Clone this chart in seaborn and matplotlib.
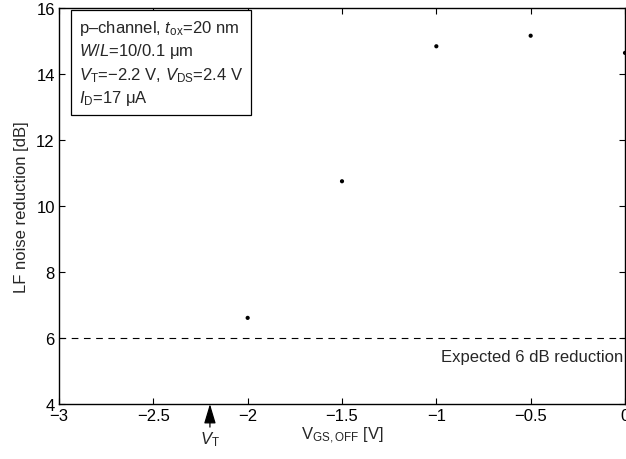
import matplotlib
matplotlib.use("Agg")
import matplotlib.pyplot as plt
import seaborn as sns
import pandas as pd

vgs_off = [-2.0, -1.5, -1.0, -0.5, 0.0]
noise_reduction = [6.61, 10.75, 14.84, 15.16, 14.64]
expected_db = 6
vt = -2.2
xticks = [-3, -2.5, -2, -1.5, -1, -0.5, 0]
yticks = [4, 6, 8, 10, 12, 14, 16]

sns.set_theme(style="ticks")
plt.rcParams['font.family'] = ['Liberation Sans', 'DejaVu Sans']
plt.rcParams['mathtext.fontset'] = 'custom'
plt.rcParams['mathtext.rm'] = 'Liberation Sans'
plt.rcParams['mathtext.it'] = 'Liberation Sans:italic'
plt.rcParams['axes.unicode_minus'] = True

FS = 12

df = pd.DataFrame({"x": vgs_off, "y": noise_reduction})

fig = plt.figure(figsize=(6.26, 4.6), dpi=100)
ax = fig.add_axes([59/626, 1 - 405/460, (625 - 59)/626, (405 - 9)/460])

sns.scatterplot(data=df, x="x", y="y", ax=ax, color="black", s=9, marker="o",
                edgecolor="none", legend=False, zorder=3)
ax.axhline(expected_db, color="black", lw=0.8, ls=(0, (6, 5)))

ax.set_xlim(-3, 0)
ax.set_ylim(4, 16)
ax.set_xticks(xticks)
ax.set_yticks(yticks)
ax.set_xticklabels([("\u2212" + f"{abs(v):g}") if v < 0 else f"{v:g}" for v in xticks])
ax.set_yticklabels([f"{v:g}" for v in yticks])
ax.tick_params(direction="in", top=True, right=True, length=4, width=0.8,
               labelsize=FS, colors="black", pad=3)
for s in ax.spines.values():
    s.set_linewidth(1.0)
    s.set_color("black")
ax.set_xlabel(r"V$_{\mathrm{GS,OFF}}$ [V]", fontsize=FS, labelpad=1)
ax.set_ylabel("LF noise reduction [dB]", fontsize=FS, labelpad=5)
ax.grid(False)

ax.text(-0.01, 5.45, "Expected 6 dB reduction", ha="right", va="center", fontsize=FS)

txt = ("p\u2013channel, $t_{\\mathrm{ox}}$=20 nm\n"
       "$W/L$=10/0.1 \u03bcm\n"
       "$V_{\\mathrm{T}}$=\u22122.2 V, $V_{\\mathrm{DS}}$=2.4 V\n"
       "$I_{\\mathrm{D}}$=17 \u03bcA")
ax.text(0.035, 0.975, txt, transform=ax.transAxes, ha="left", va="top", fontsize=FS,
        linespacing=1.32,
        bbox=dict(boxstyle="square,pad=0.45", fc="white", ec="black", lw=0.9))

ax.annotate("", xy=(vt, 4), xytext=(vt, 3.3), annotation_clip=False,
            arrowprops=dict(arrowstyle="-|>,head_length=1.0,head_width=0.3", color="black",
                            lw=0.9, shrinkA=0, shrinkB=0))
ax.text(vt, 3.24, "$V_{\\mathrm{T}}$", ha="center", va="top", fontsize=FS, clip_on=False)

fig.savefig("out.png", dpi=100)
